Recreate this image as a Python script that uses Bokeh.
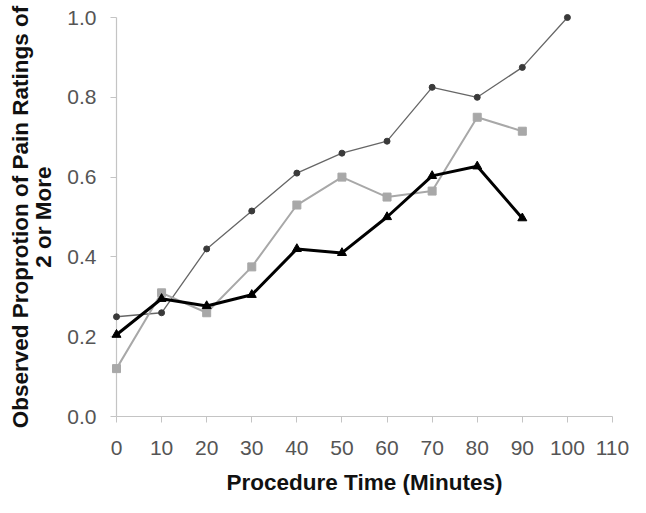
from bokeh.plotting import figure
from bokeh.models import Range1d, FixedTicker, NumeralTickFormatter
from bokeh.embed import file_html
from bokeh.resources import INLINE

# Data
minutes_a = [0, 10, 20, 30, 40, 50, 60, 70, 80, 90, 100]
series_circle = [0.25, 0.26, 0.42, 0.515, 0.61, 0.66, 0.69, 0.825, 0.80, 0.875, 1.0]

minutes_b = [0, 10, 20, 30, 40, 50, 60, 70, 80, 90]
series_square = [0.12, 0.31, 0.26, 0.375, 0.53, 0.60, 0.55, 0.565, 0.75, 0.715]
series_triangle = [0.205, 0.295, 0.277, 0.305, 0.42, 0.41, 0.50, 0.603, 0.627, 0.497]

x_ticks = [0, 10, 20, 30, 40, 50, 60, 70, 80, 90, 100, 110]
y_ticks = [0.0, 0.2, 0.4, 0.6, 0.8, 1.0]

p = figure(width=630, height=497, output_backend="svg", toolbar_location=None,
           x_range=Range1d(0, 110), y_range=Range1d(0, 1),
           min_border_left=116, min_border_right=18, min_border_top=17,
           min_border_bottom=75)
p.grid.visible = False
p.outline_line_color = None
p.background_fill_color = "white"
p.border_fill_color = "white"

axis_color = "#c4c4c4"
for ax in (p.xaxis[0], p.yaxis[0]):
    ax.axis_line_color = axis_color
    ax.axis_line_width = 1.2
    ax.major_tick_line_color = axis_color
    ax.major_tick_in = 0
    ax.major_tick_out = 6
    ax.minor_tick_line_color = None
    ax.major_label_text_font = "Liberation Sans"
    ax.major_label_text_font_size = "21px"
    ax.major_label_text_color = "#555555"
    ax.axis_label_text_font = "Liberation Sans"
    ax.axis_label_text_font_style = "bold"
    ax.axis_label_text_font_size = "22.5px"
    ax.axis_label_text_color = "#111111"

p.xaxis.ticker = FixedTicker(ticks=x_ticks)
p.xaxis.major_label_standoff = 18
p.xaxis.axis_label = "Procedure Time (Minutes)"
p.xaxis.axis_label_standoff = 12

p.yaxis.ticker = FixedTicker(ticks=y_ticks)
p.yaxis.formatter = NumeralTickFormatter(format="0.0")
p.yaxis.major_label_standoff = 14
p.yaxis.axis_label = "Observed Proprotion of Pain Ratings of\n2 or More"
p.yaxis.axis_label_standoff = 8
p.yaxis.axis_label_text_line_height = 0.92

# Series (overlay level so markers on the axes are not clipped)
r = [
    p.line(minutes_a, series_circle, line_color="#666666", line_width=1.3),
    p.scatter(minutes_a, series_circle, marker="circle", size=6,
              fill_color="#3a3a3a", line_color="#3a3a3a"),
    p.line(minutes_b, series_square, line_color="#a8a8a8", line_width=2),
    p.scatter(minutes_b, series_square, marker="square", size=8,
              fill_color="#a8a8a8", line_color="#a8a8a8"),
    p.line(minutes_b, series_triangle, line_color="#000000", line_width=3),
    p.scatter(minutes_b, series_triangle, marker="triangle", size=9,
              fill_color="#000000", line_color="#000000"),
]
for rr in r:
    rr.level = "overlay"

open("out.html", "w").write(file_html(p, INLINE))
